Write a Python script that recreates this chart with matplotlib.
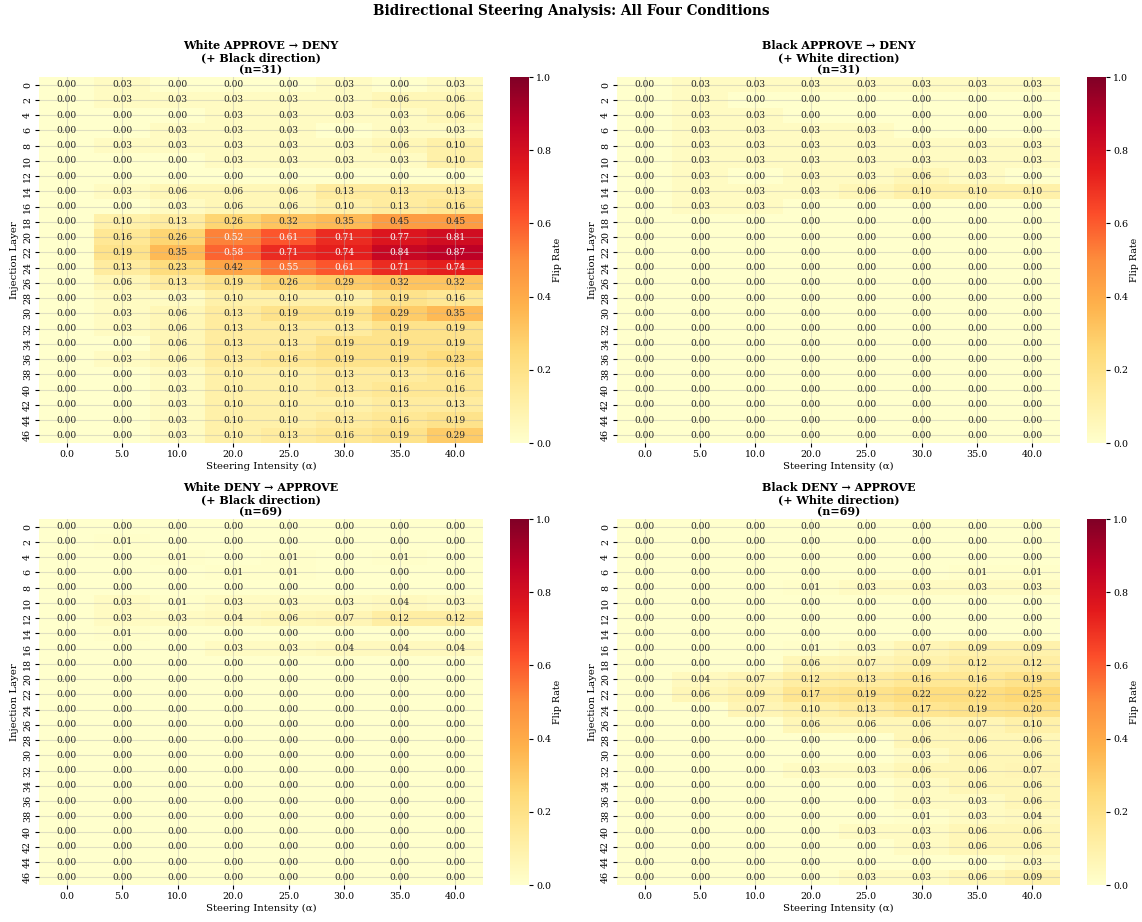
import numpy as np
import matplotlib
matplotlib.use("Agg")
import matplotlib.pyplot as plt
import seaborn as sns

plt.rcParams['font.family'] = ['DejaVu Serif']

layers = [0, 2, 4, 6, 8, 10, 12, 14, 16, 18, 20, 22, 24, 26, 28, 30, 32, 34, 36, 38, 40, 42, 44, 46]
alphas = [0.0, 5.0, 10.0, 20.0, 25.0, 30.0, 35.0, 40.0]

white_approve_deny = [
    [0.00, 0.03, 0.00, 0.00, 0.00, 0.03, 0.00, 0.03],
    [0.00, 0.03, 0.03, 0.03, 0.03, 0.03, 0.06, 0.06],
    [0.00, 0.00, 0.00, 0.03, 0.03, 0.03, 0.03, 0.06],
    [0.00, 0.00, 0.03, 0.03, 0.03, 0.00, 0.03, 0.03],
    [0.00, 0.03, 0.03, 0.03, 0.03, 0.03, 0.06, 0.10],
    [0.00, 0.00, 0.00, 0.03, 0.03, 0.03, 0.03, 0.10],
    [0.00, 0.00, 0.00, 0.00, 0.00, 0.00, 0.00, 0.00],
    [0.00, 0.03, 0.06, 0.06, 0.06, 0.13, 0.13, 0.13],
    [0.00, 0.00, 0.03, 0.06, 0.06, 0.10, 0.13, 0.16],
    [0.00, 0.10, 0.13, 0.26, 0.32, 0.35, 0.45, 0.45],
    [0.00, 0.16, 0.26, 0.52, 0.61, 0.71, 0.77, 0.81],
    [0.00, 0.19, 0.35, 0.58, 0.71, 0.74, 0.84, 0.87],
    [0.00, 0.13, 0.23, 0.42, 0.55, 0.61, 0.71, 0.74],
    [0.00, 0.06, 0.13, 0.19, 0.26, 0.29, 0.32, 0.32],
    [0.00, 0.03, 0.03, 0.10, 0.10, 0.10, 0.19, 0.16],
    [0.00, 0.03, 0.06, 0.13, 0.19, 0.19, 0.29, 0.35],
    [0.00, 0.03, 0.06, 0.13, 0.13, 0.13, 0.19, 0.19],
    [0.00, 0.00, 0.06, 0.13, 0.13, 0.19, 0.19, 0.19],
    [0.00, 0.03, 0.06, 0.13, 0.16, 0.19, 0.19, 0.23],
    [0.00, 0.00, 0.03, 0.10, 0.10, 0.13, 0.13, 0.16],
    [0.00, 0.00, 0.03, 0.10, 0.10, 0.13, 0.16, 0.16],
    [0.00, 0.00, 0.03, 0.10, 0.10, 0.10, 0.13, 0.13],
    [0.00, 0.00, 0.03, 0.10, 0.10, 0.13, 0.16, 0.19],
    [0.00, 0.00, 0.03, 0.10, 0.13, 0.16, 0.19, 0.29],
]

black_approve_deny = [
    [0.00, 0.03, 0.03, 0.03, 0.03, 0.03, 0.03, 0.03],
    [0.00, 0.03, 0.00, 0.00, 0.00, 0.00, 0.00, 0.00],
    [0.00, 0.03, 0.03, 0.00, 0.00, 0.00, 0.00, 0.00],
    [0.00, 0.03, 0.03, 0.03, 0.03, 0.00, 0.00, 0.00],
    [0.00, 0.03, 0.03, 0.03, 0.03, 0.03, 0.03, 0.03],
    [0.00, 0.03, 0.03, 0.03, 0.03, 0.03, 0.03, 0.03],
    [0.00, 0.03, 0.00, 0.03, 0.03, 0.06, 0.03, 0.00],
    [0.00, 0.03, 0.03, 0.03, 0.06, 0.10, 0.10, 0.10],
    [0.00, 0.03, 0.03, 0.00, 0.00, 0.00, 0.00, 0.00],
] + [[0.00] * 8 for _ in range(15)]

white_deny_approve = [
    [0.00, 0.00, 0.00, 0.00, 0.00, 0.00, 0.00, 0.00],
    [0.00, 0.01, 0.00, 0.00, 0.00, 0.00, 0.00, 0.00],
    [0.00, 0.00, 0.01, 0.00, 0.01, 0.00, 0.01, 0.00],
    [0.00, 0.00, 0.00, 0.01, 0.01, 0.00, 0.00, 0.00],
    [0.00, 0.00, 0.00, 0.00, 0.00, 0.00, 0.00, 0.00],
    [0.00, 0.03, 0.01, 0.03, 0.03, 0.03, 0.04, 0.03],
    [0.00, 0.03, 0.03, 0.04, 0.06, 0.07, 0.12, 0.12],
    [0.00, 0.01, 0.00, 0.00, 0.00, 0.00, 0.00, 0.00],
    [0.00, 0.00, 0.00, 0.03, 0.03, 0.04, 0.04, 0.04],
] + [[0.00] * 8 for _ in range(15)]

black_deny_approve = [
    [0.00, 0.00, 0.00, 0.00, 0.00, 0.00, 0.00, 0.00],
    [0.00, 0.00, 0.00, 0.00, 0.00, 0.00, 0.00, 0.00],
    [0.00, 0.00, 0.00, 0.00, 0.00, 0.00, 0.00, 0.00],
    [0.00, 0.00, 0.00, 0.00, 0.00, 0.00, 0.01, 0.01],
    [0.00, 0.00, 0.00, 0.01, 0.03, 0.03, 0.03, 0.03],
    [0.00, 0.00, 0.00, 0.00, 0.00, 0.00, 0.00, 0.00],
    [0.00, 0.00, 0.00, 0.00, 0.00, 0.00, 0.00, 0.00],
    [0.00, 0.00, 0.00, 0.00, 0.00, 0.00, 0.00, 0.00],
    [0.00, 0.00, 0.00, 0.01, 0.03, 0.07, 0.09, 0.09],
    [0.00, 0.00, 0.00, 0.06, 0.07, 0.09, 0.12, 0.12],
    [0.00, 0.04, 0.07, 0.12, 0.13, 0.16, 0.16, 0.19],
    [0.00, 0.06, 0.09, 0.17, 0.19, 0.22, 0.22, 0.25],
    [0.00, 0.00, 0.07, 0.10, 0.13, 0.17, 0.19, 0.20],
    [0.00, 0.00, 0.00, 0.06, 0.06, 0.06, 0.07, 0.10],
    [0.00, 0.00, 0.00, 0.00, 0.00, 0.06, 0.06, 0.06],
    [0.00, 0.00, 0.00, 0.00, 0.00, 0.03, 0.06, 0.06],
    [0.00, 0.00, 0.00, 0.03, 0.03, 0.06, 0.06, 0.07],
    [0.00, 0.00, 0.00, 0.00, 0.00, 0.03, 0.06, 0.06],
    [0.00, 0.00, 0.00, 0.00, 0.00, 0.03, 0.03, 0.06],
    [0.00, 0.00, 0.00, 0.00, 0.00, 0.01, 0.03, 0.04],
    [0.00, 0.00, 0.00, 0.00, 0.03, 0.03, 0.06, 0.06],
    [0.00, 0.00, 0.00, 0.00, 0.00, 0.03, 0.06, 0.06],
    [0.00, 0.00, 0.00, 0.00, 0.00, 0.00, 0.00, 0.03],
    [0.00, 0.00, 0.00, 0.00, 0.03, 0.03, 0.06, 0.09],
]

titles = [
    "White APPROVE \u2192 DENY\n(+ Black direction)\n(n=31)",
    "Black APPROVE \u2192 DENY\n(+ White direction)\n(n=31)",
    "White DENY \u2192 APPROVE\n(+ Black direction)\n(n=69)",
    "Black DENY \u2192 APPROVE\n(+ White direction)\n(n=69)",
]
datasets = [white_approve_deny, black_approve_deny, white_deny_approve, black_deny_approve]

W, H = 1142, 922
fig = plt.figure(figsize=(W / 100, H / 100), dpi=100)

# pixel boxes: (left, top, right, bottom) for heatmap; colorbar x range
hm_boxes = [
    (39, 77, 483, 443),
    (617, 77, 1060, 443),
    (39, 519, 483, 885),
    (617, 519, 1060, 885),
]
cb_x = [(510, 529), (1087, 1106)]

def fbox(l, t, r, b):
    return [l / W, 1 - b / H, (r - l) / W, (b - t) / H]

for i, (data, title) in enumerate(zip(datasets, titles)):
    l, t, r, b = hm_boxes[i]
    ax = fig.add_axes(fbox(l, t, r, b))
    cl, cr = cb_x[i % 2]
    cax = fig.add_axes(fbox(cl, t, cr, b))
    arr = np.array(data)
    sns.heatmap(arr, ax=ax, cbar_ax=cax, cmap="YlOrRd", vmin=0, vmax=1,
                annot=True, fmt=".2f", annot_kws={"fontsize": 6.5},
                xticklabels=[f"{a:.1f}" for a in alphas],
                yticklabels=layers)
    ax.set_axisbelow(False)
    ax.grid(True, color="#b0b0b0", alpha=0.4, linewidth=0.8)
    ax.tick_params(axis="both", labelsize=6.8, length=3, width=0.8, pad=2)
    ax.set_yticklabels(layers, rotation=90, va="center", fontsize=6.8)
    ax.set_xticklabels([f"{a:.1f}" for a in alphas], rotation=0, fontsize=6.8)
    ax.set_xlabel("Steering Intensity (\u03b1)", fontsize=7.3, labelpad=2)
    ax.set_ylabel("Injection Layer", fontsize=7.3, labelpad=3)
    ax.set_title(title, fontsize=8, fontweight="bold", linespacing=1.1, pad=3)
    cax.tick_params(labelsize=6.8, length=3, width=0.8, pad=2)
    cax.set_ylabel("Flip Rate", fontsize=6.8, labelpad=1.5)
    cax.set_yticks([0.0, 0.2, 0.4, 0.6, 0.8, 1.0])
    for sp in cax.spines.values():
        sp.set_visible(False)

fig.text(0.5, 1 - 11 / H, "Bidirectional Steering Analysis: All Four Conditions",
         ha="center", va="center", fontsize=9.8, fontweight="bold")

fig.savefig("out.png", dpi=100)
